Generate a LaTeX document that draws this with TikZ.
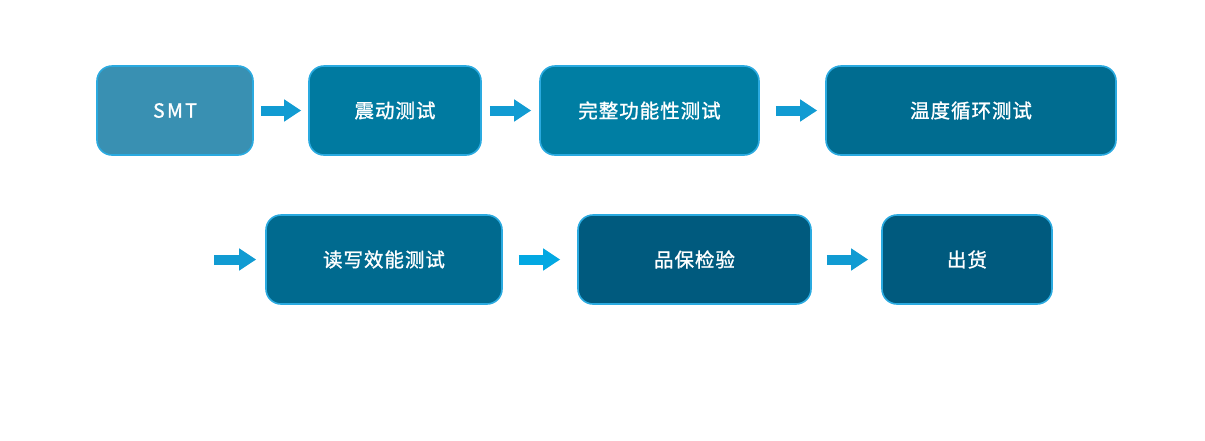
\documentclass[tikz,border=0pt]{standalone}
\usepackage{fontspec}
\newfontfamily\cjk[LetterSpace=5,FakeBold=1.2]{Noto Sans CJK SC}
\usetikzlibrary{arrows.meta}
\definecolor{bordc}{HTML}{2AAAE0}
\definecolor{c1}{HTML}{3990B2}
\definecolor{c2}{HTML}{007AA0}
\definecolor{c3}{HTML}{007EA3}
\definecolor{c4}{HTML}{006C90}
\definecolor{c5}{HTML}{006A8F}
\definecolor{c6}{HTML}{005A7E}
\definecolor{arr1}{HTML}{119BD2}
\definecolor{arr2}{HTML}{03A8E2}
\tikzset{
  stepbox/.style={draw=bordc, line width=1.6pt, rounded corners=15pt, inner sep=0pt,
    minimum height=89pt, text=white, font=\cjk\fontsize{19.5}{19.5}\selectfont},
  flowarrow/.style={line width=10pt, -{Triangle[width=21pt,length=17pt]}},
}
\begin{document}
\begin{tikzpicture}[x=1pt,y=-1pt]
\useasboundingbox[fill=white] (0,0) rectangle (1205,440);
% row 1
\node[stepbox, fill=c1, minimum width=156pt] (smt) at (175,110.5) {\addfontfeature{LetterSpace=12}SMT};
\node[stepbox, fill=c2, minimum width=172pt] (zd) at (395,110.5) {震动测试};
\node[stepbox, fill=c3, minimum width=219pt] (wz) at (649.5,110.5) {完整功能性测试};
\node[stepbox, fill=c4, minimum width=290pt] (wd) at (971,110.5) {温度循环测试};
% row 2
\node[stepbox, fill=c5, minimum width=236pt] (dx) at (384,259.5) {读写效能测试};
\node[stepbox, fill=c6, minimum width=233pt] (pb) at (694.5,259.5) {品保检验};
\node[stepbox, fill=c6, minimum width=170pt] (ch) at (967,259.5) {出货};
\coordinate (start2) at (214,259.5);
% arrows
\draw[flowarrow, arr1] ([xshift=7pt]smt.east) -- ([xshift=-7pt]zd.west);
\draw[flowarrow, arr1] ([xshift=8pt]zd.east) -- ([xshift=-8pt]wz.west);
\draw[flowarrow, arr1] ([xshift=16pt]wz.east) -- ([xshift=-8pt]wd.west);
\draw[flowarrow, arr1] (start2) -- ([xshift=-9pt]dx.west);
\draw[flowarrow, arr2] ([xshift=16pt]dx.east) -- ([xshift=-17pt]pb.west);
\draw[flowarrow, arr1] ([xshift=15pt]pb.east) -- ([xshift=-13pt]ch.west);
\end{tikzpicture}
\end{document}
